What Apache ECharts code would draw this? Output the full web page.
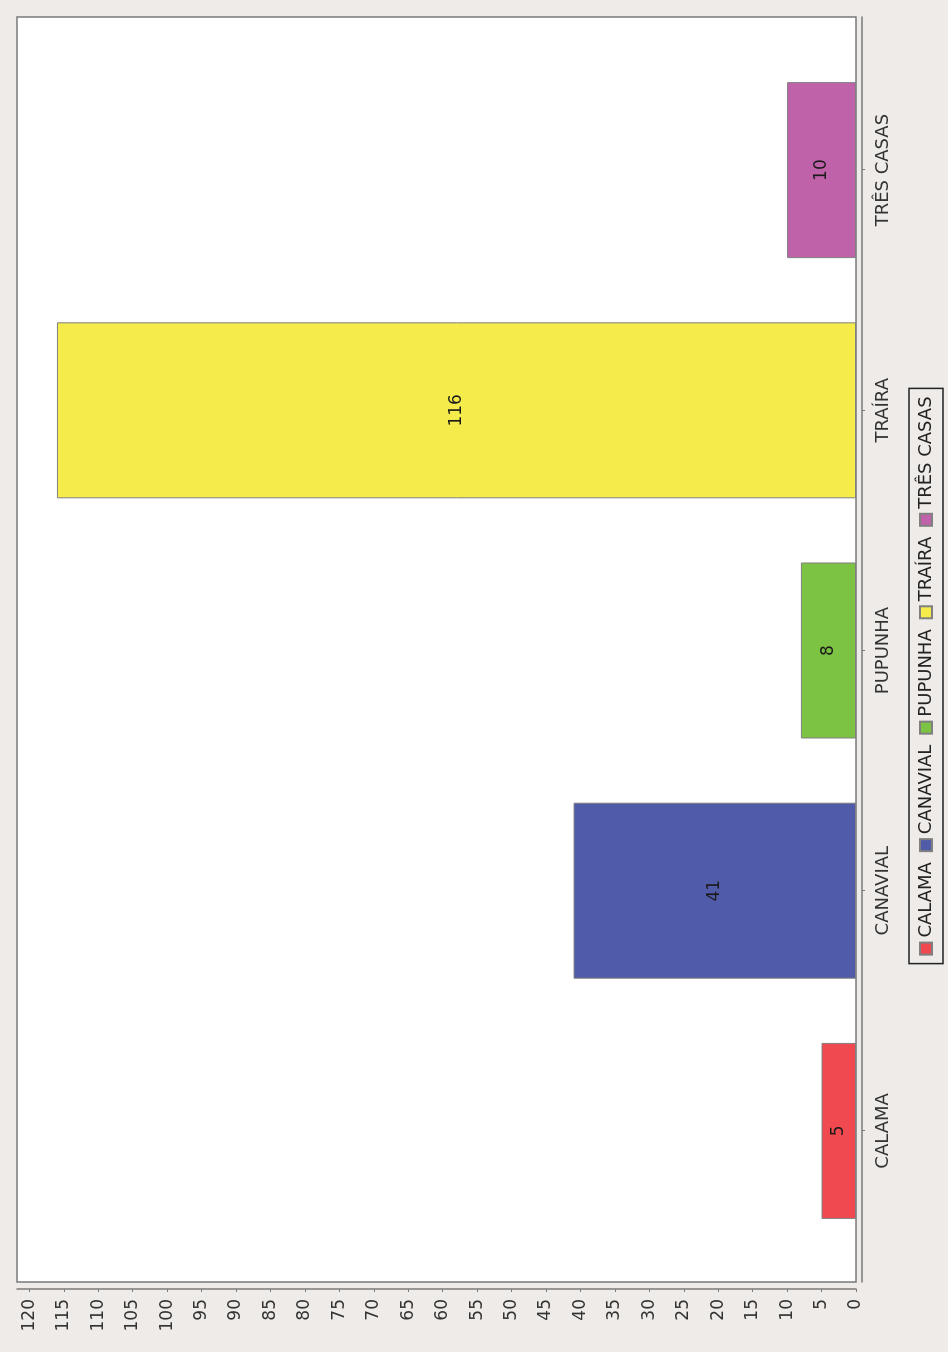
<!DOCTYPE html>
<html>
<head>
<meta charset="utf-8">
<script src="https://cdn.jsdelivr.net/npm/echarts@6/dist/echarts.min.js"></script>
<style>
  html, body { margin: 0; padding: 0; background: #eeebe8; overflow: hidden; }
  /* chart is drawn landscape then turned a quarter turn to the left */
  #chart {
    position: absolute; left: 0; top: 0;
    width: 1352px; height: 948px;
    transform-origin: 0 0;
    transform: translateY(1352px) rotate(-90deg);
  }
</style>
</head>
<body>
<div id="chart"></div>
<script>
const categories = ['CALAMA', 'CANAVIAL', 'PUPUNHA', 'TRAÍRA', 'TRÊS CASAS']
const counts = [5, 41, 8, 116, 10]
const colors = ['#f04a50', '#505ba9', '#7cc243', '#f5eb4b', '#c062a9']
const valueMax = 121.8

const font = 'DejaVu Sans'

let chart = echarts.init(document.getElementById('chart'))

let series = categories.map((name, i) => ({
  name: name,
  type: 'bar',
  stack: 'all',
  xAxisIndex: 1,
  yAxisIndex: 1,
  barWidth: 176,
  data: counts.map((v, j) => (j === i ? v : null)),
  itemStyle: { color: colors[i], borderColor: '#808080', borderWidth: 1 },
  label: {
    show: true,
    position: 'inside',
    color: '#1a1a1a',
    fontFamily: font,
    fontSize: 17
  }
}))

chart.setOption({
  animation: false,
  backgroundColor: '#eeebe8',
  grid: [
    // outer plot frame
    { left: 70, right: 17, top: 17, bottom: 92, show: true, backgroundColor: '#ffffff', borderColor: '#7a7a7a', borderWidth: 1.5 },
    // bars sit in an inset band so the categories keep the frame margins
    { left: 101, right: 50, top: 17, bottom: 92 }
  ],
  xAxis: [
    {
      gridIndex: 0, type: 'value', min: 0, max: 1, offset: 6,
      axisLine: { show: true, onZero: false, lineStyle: { color: '#7a7a7a', width: 1.5 } },
      axisTick: { show: false }, axisLabel: { show: false }, splitLine: { show: false }
    },
    {
      gridIndex: 1, type: 'category', data: categories, offset: 6,
      axisLine: { show: false, onZero: false },
      axisTick: { show: true, alignWithLabel: true, length: 3, lineStyle: { color: '#7a7a7a' } },
      axisLabel: { color: '#333', fontFamily: font, fontSize: 18, margin: 12 }
    }
  ],
  yAxis: [
    {
      gridIndex: 0, type: 'value', min: 0, max: valueMax, interval: 5, offset: 7,
      axisLine: { show: true, onZero: false, lineStyle: { color: '#7a7a7a', width: 1.5 } },
      axisTick: { show: true, length: 3, lineStyle: { color: '#7a7a7a' } },
      axisLabel: {
        color: '#333', fontFamily: font, fontSize: 17, margin: 10, showMaxLabel: false,
        formatter: v => (v % 5 === 0 ? String(v) : '')
      },
      splitLine: { show: false }
    },
    {
      gridIndex: 1, type: 'value', min: 0, max: valueMax, show: false
    }
  ],
  legend: {
    data: categories,
    left: 'center',
    top: 909,
    orient: 'horizontal',
    icon: 'rect',
    itemWidth: 12,
    itemHeight: 12,
    itemGap: 10,
    padding: [8, 8],
    borderColor: '#222',
    borderWidth: 1.5,
    textStyle: { color: '#222', fontFamily: font, fontSize: 18 }
  },
  series: series
})
</script>
</body>
</html>
